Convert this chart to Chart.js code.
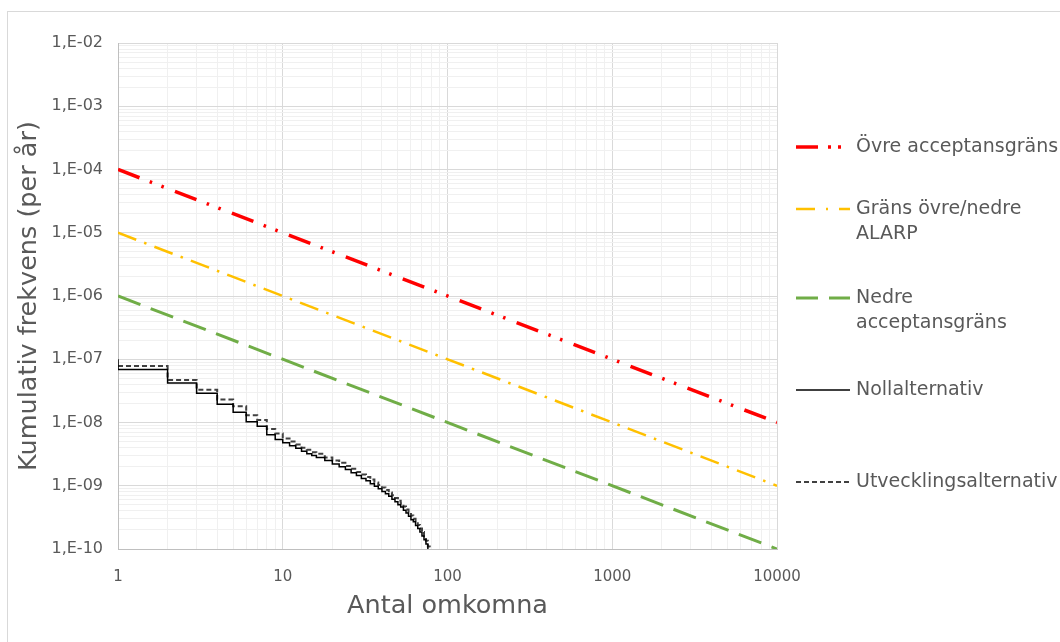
<!DOCTYPE html>
<html lang="sv">
<head>
  <meta charset="UTF-8">
  <title>Kumulativ frekvens</title>
  <script src="https://cdn.jsdelivr.net/npm/chart.js"></script>
  <style>
    html, body {
      margin: 0;
      padding: 0;
      background: white;
      overflow: hidden;
    }
    .frame {
      position: absolute;
      left: 7px;
      top: 11px;
      width: 1100px;
      height: 700px;
      border: 1px solid #d9d9d9;
    }
    .wrap {
      position: absolute;
      left: 0;
      top: 0;
      width: 1060px;
      height: 642px;
    }
  </style>
</head>
<body>

<div class="frame"></div>
<div class="wrap">
  <canvas id="fnChart" width="1060" height="642"></canvas>
</div>

<script>
// Riskkriterier (F/N-linjer), gäller från 1 till 10000 omkomna
const limitN = [1, 10000];
const ovreF = [1e-4, 1e-8];
const alarpF = [1e-5, 1e-9];
const nedreF = [1e-6, 1e-10];

// Nollalternativ, trappstegskurva
const nollN = [1, 1, 2, 3, 4, 5, 6, 7, 8, 9, 10, 11, 12, 13, 14, 15, 16, 18, 20, 22, 24, 26, 28, 30,
  32, 34, 36, 38, 40, 42, 44, 46, 48, 50, 52, 54, 56, 58, 60, 62, 64, 66, 68, 70, 72, 74, 76];
const nollF = [1e-7, 6.9e-8, 4.2e-8, 2.9e-8, 1.95e-8, 1.45e-8, 1.03e-8, 8.7e-9, 6.4e-9, 5.4e-9,
  4.8e-9, 4.3e-9, 3.9e-9, 3.5e-9, 3.2e-9, 3.0e-9, 2.8e-9, 2.5e-9, 2.2e-9, 2.0e-9, 1.8e-9, 1.6e-9,
  1.45e-9, 1.3e-9, 1.2e-9, 1.08e-9, 9.8e-10, 9.0e-10, 8.1e-10, 7.5e-10, 6.8e-10, 6.1e-10, 5.6e-10,
  5.0e-10, 4.6e-10, 4.1e-10, 3.7e-10, 3.3e-10, 2.9e-10, 2.7e-10, 2.35e-10, 2.1e-10, 1.85e-10,
  1.6e-10, 1.4e-10, 1.2e-10, 8e-11];

// Utvecklingsalternativ, trappstegskurva
const utvN = [1, 2, 3, 4, 5, 6, 7, 8, 9, 10, 11, 12, 13, 14, 15, 16, 18, 20, 22, 24, 26, 28, 30,
  32, 34, 36, 38, 40, 42, 44, 46, 48, 50, 52, 54, 56, 58, 60, 62, 64, 66, 68, 70, 72, 74, 76, 78];
const utvF = [7.8e-8, 4.7e-8, 3.3e-8, 2.3e-8, 1.8e-8, 1.3e-8, 1.1e-8, 7.9e-9, 6.7e-9,
  5.6e-9, 5.0e-9, 4.5e-9, 4.0e-9, 3.7e-9, 3.4e-9, 3.2e-9, 2.8e-9, 2.5e-9, 2.3e-9, 2.05e-9, 1.85e-9,
  1.65e-9, 1.5e-9, 1.38e-9, 1.25e-9, 1.13e-9, 1.03e-9, 9.4e-10, 8.6e-10, 7.8e-10, 7.1e-10, 6.4e-10,
  5.8e-10, 5.3e-10, 4.7e-10, 4.2e-10, 3.8e-10, 3.4e-10, 3.0e-10, 2.7e-10, 2.4e-10, 2.1e-10,
  1.85e-10, 1.6e-10, 1.35e-10, 1.1e-10, 8e-11];

// Axlar: dekader och mellansteg
const xDecades = [0, 1, 2, 3];
const yDecades = [-10, -9, -8, -7, -6, -5, -4, -3];
const minorSteps = [1, 2, 3, 4, 5, 6, 7, 8, 9];

const FONT = "'DejaVu Sans', Verdana, sans-serif";
const TEXT = "#595959";

function toPoints(xs, ys) {
  return xs.map((x, i) => ({ x: x, y: ys[i] }));
}

function logTicks(decades) {
  const vals = [];
  decades.forEach(d => {
    minorSteps.forEach(s => vals.push(+(s * Math.pow(10, d)).toPrecision(6)));
  });
  const last = decades[decades.length - 1] + 1;
  vals.push(+Math.pow(10, last).toPrecision(6));
  return vals.map(v => ({ value: v }));
}

function isDecade(v) {
  const e = Math.round(Math.log10(v));
  return Math.abs(v / Math.pow(10, e) - 1) < 1e-6;
}

function gridColor(ctx) {
  if (!ctx.tick) return "#ececec";
  return isDecade(ctx.tick.value) ? "#d9d9d9" : "#f0f0f0";
}

// Egen förklaring till höger om diagrammet
const legendRows = [
  { y: 147 },
  { y: 209 },
  { y: 298 },
  { y: 390 },
  { y: 482 }
];

const sideLegend = {
  id: "sideLegend",
  afterDraw(chart) {
    const ctx = chart.ctx;
    chart.data.datasets.forEach((ds, i) => {
      const row = legendRows[i];
      ctx.save();
      ctx.strokeStyle = ds.borderColor;
      ctx.lineWidth = ds.legendWidth || ds.borderWidth;
      ctx.setLineDash(ds.legendDash || []);
      ctx.beginPath();
      ctx.moveTo(796, row.y);
      ctx.lineTo(850, row.y);
      ctx.stroke();
      ctx.setLineDash([]);
      ctx.fillStyle = TEXT;
      ctx.font = "19px " + FONT;
      ctx.textBaseline = "middle";
      ctx.textAlign = "left";
      const lines = Array.isArray(ds.label) ? ds.label : [ds.label];
      lines.forEach((t, k) => ctx.fillText(t, 856, row.y + k * 25));
      ctx.restore();
    });
  }
};

const ctx = document.getElementById("fnChart").getContext("2d");
new Chart(ctx, {
  type: "line",
  data: {
    datasets: [
      {
        label: "Övre acceptansgräns",
        data: toPoints(limitN, ovreF),
        borderColor: "#ff0000",
        borderWidth: 3.5,
        borderDash: [23, 11, 2.5, 10, 2.5, 12],
        legendDash: [22, 10, 3, 7, 3, 9],
        pointRadius: 0
      },
      {
        label: ["Gräns övre/nedre", "ALARP"],
        data: toPoints(limitN, alarpF),
        borderColor: "#ffc000",
        borderWidth: 2.5,
        borderDash: [19.5, 8.5, 2.5, 8.5],
        legendDash: [19, 11, 2, 11],
        pointRadius: 0
      },
      {
        label: ["Nedre", "acceptansgräns"],
        data: toPoints(limitN, nedreF),
        borderColor: "#70ad47",
        borderWidth: 3,
        borderDash: [24, 11],
        legendDash: [22, 11],
        pointRadius: 0
      },
      {
        label: "Nollalternativ",
        data: toPoints(nollN, nollF),
        borderColor: "#000000",
        borderWidth: 1.5,
        stepped: "before",
        pointRadius: 0
      },
      {
        label: "Utvecklingsalternativ",
        data: toPoints(utvN, utvF),
        borderColor: "#404040",
        borderWidth: 2,
        borderDash: [5, 3],
        legendDash: [5, 3],
        stepped: "before",
        pointRadius: 0
      }
    ]
  },
  options: {
    responsive: false,
    animation: false,
    layout: {
      padding: { left: 0, top: 43, right: 283, bottom: 0 }
    },
    plugins: {
      legend: { display: false },
      tooltip: { enabled: false }
    },
    scales: {
      x: {
        type: "logarithmic",
        min: 1,
        max: 10000,
        afterBuildTicks: scale => { scale.ticks = logTicks(xDecades); },
        afterFit: scale => { scale.height = 93; },
        grid: { color: gridColor, drawTicks: false },
        border: { color: "#bfbfbf", width: 1 },
        ticks: {
          autoSkip: false,
          maxRotation: 0,
          padding: 19,
          color: TEXT,
          font: { family: FONT, size: 15 },
          callback: v => isDecade(v) ? String(Math.round(v)) : ""
        },
        title: {
          display: true,
          text: "Antal omkomna",
          color: TEXT,
          font: { family: FONT, size: 25.5 },
          padding: { top: 0, bottom: 20 }
        }
      },
      y: {
        type: "logarithmic",
        min: 1e-10,
        max: 1e-2,
        afterBuildTicks: scale => { scale.ticks = logTicks(yDecades); },
        afterFit: scale => { scale.width = 118; },
        grid: { color: gridColor, drawTicks: false },
        border: { color: "#bfbfbf", width: 1 },
        ticks: {
          autoSkip: false,
          padding: 15,
          color: TEXT,
          font: { family: FONT, size: 16 },
          callback: v => {
            if (!isDecade(v)) return "";
            const e = Math.round(Math.log10(v));
            return "1,E-" + String(Math.abs(e)).padStart(2, "0");
          }
        },
        title: {
          display: true,
          text: "Kumulativ frekvens (per år)",
          color: TEXT,
          font: { family: FONT, size: 25.5 },
          padding: { top: 14, bottom: 0 }
        }
      }
    }
  },
  plugins: [sideLegend]
});
</script>

</body>
</html>
